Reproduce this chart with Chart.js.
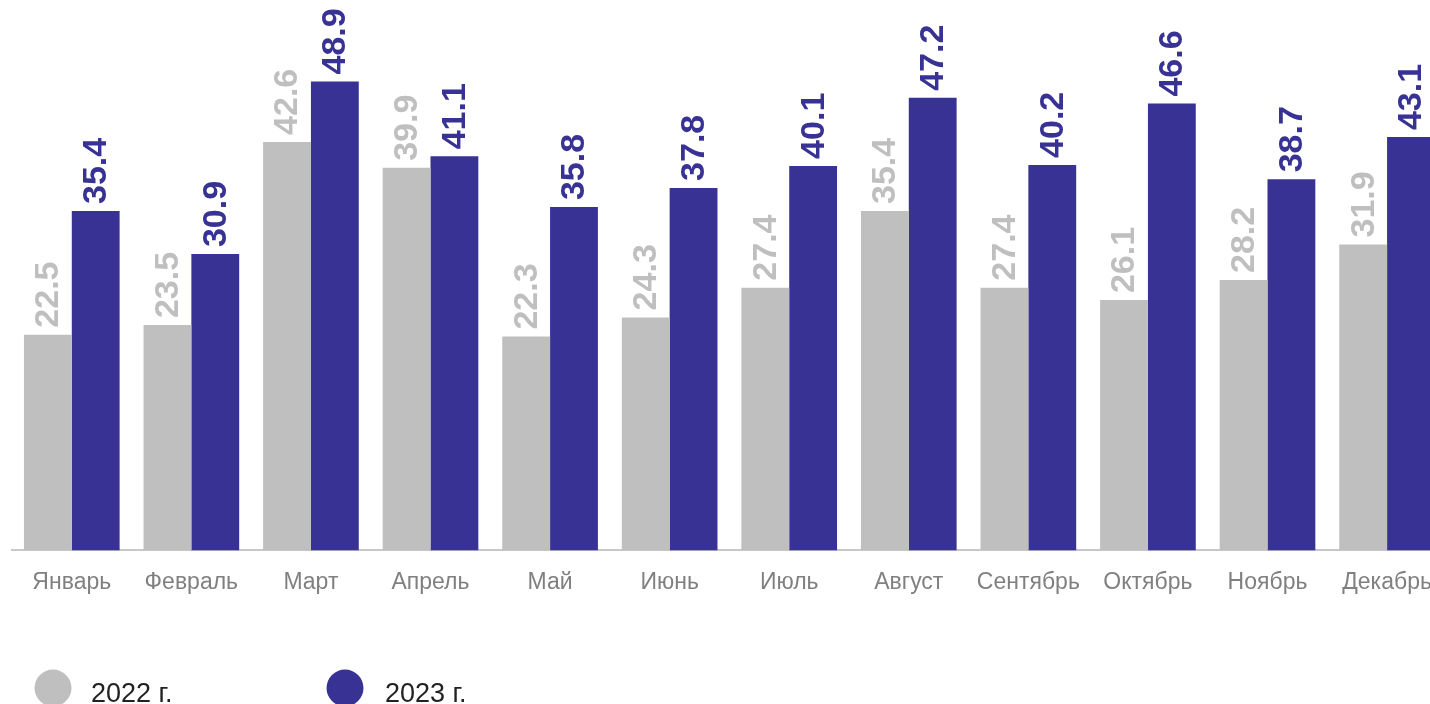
<!DOCTYPE html>
<html>
<head>
<meta charset="utf-8">
<script src="https://cdn.jsdelivr.net/npm/chart.js@4"></script>
<style>
  html, body { margin: 0; padding: 0; background: #fff; overflow: hidden; }
  #wrap { width: 1450px; height: 704px; position: relative; }
</style>
</head>
<body>
<div id="wrap"><canvas id="c"></canvas></div>
<script>
const categories = ['Январь','Февраль','Март','Апрель','Май','Июнь','Июль','Август','Сентябрь','Октябрь','Ноябрь','Декабрь'];
const seriesNames = ['2022 г.', '2023 г.'];
const values2022 = [22.5, 23.5, 42.6, 39.9, 22.3, 24.3, 27.4, 35.4, 27.4, 26.1, 28.2, 31.9];
const values2023 = [35.4, 30.9, 48.9, 41.1, 35.8, 37.8, 40.1, 47.2, 40.2, 46.6, 38.7, 43.1];

const GRAY = '#bfbfbf';
const BLUE = '#373293';
const FONT = '"Liberation Sans", Arial, sans-serif';

const valueLabels = {
  id: 'valueLabels',
  afterDatasetsDraw(chart) {
    const ctx = chart.ctx;
    chart.data.datasets.forEach((ds, di) => {
      const meta = chart.getDatasetMeta(di);
      meta.data.forEach((bar, i) => {
        const v = ds.data[i];
        ctx.save();
        ctx.translate(bar.x + 1, bar.y - 7);
        ctx.rotate(-Math.PI / 2);
        ctx.textAlign = 'left';
        ctx.textBaseline = 'middle';
        ctx.fillStyle = ds.backgroundColor;
        ctx.font = 'bold 34px ' + FONT;
        ctx.fillText(v.toFixed(1), 0, 0);
        ctx.restore();
      });
    });
  }
};

const bottomLegend = {
  id: 'bottomLegend',
  afterDraw(chart) {
    const ctx = chart.ctx;
    const items = [
      { cx: 53, tx: 91, color: GRAY, text: seriesNames[0] },
      { cx: 345, tx: 385, color: BLUE, text: seriesNames[1] }
    ];
    const cy = 688;
    items.forEach(it => {
      ctx.save();
      ctx.beginPath();
      ctx.arc(it.cx, cy, 18.5, 0, Math.PI * 2);
      ctx.fillStyle = it.color;
      ctx.fill();
      ctx.fillStyle = '#222222';
      ctx.font = '27px ' + FONT;
      ctx.textAlign = 'left';
      ctx.textBaseline = 'alphabetic';
      ctx.fillText(it.text, it.tx, 702);
      ctx.restore();
    });
  }
};

new Chart(document.getElementById('c'), {
  type: 'bar',
  data: {
    labels: categories,
    datasets: [
      { label: seriesNames[0], data: values2022, backgroundColor: GRAY, categoryPercentage: 0.8, barPercentage: 1.0 },
      { label: seriesNames[1], data: values2023, backgroundColor: BLUE, categoryPercentage: 0.8, barPercentage: 1.0 }
    ]
  },
  options: {
    responsive: true,
    maintainAspectRatio: false,
    animation: false,
    devicePixelRatio: 1,
    layout: { padding: { left: 12, right: 2, top: 23, bottom: 90 } },
    plugins: { legend: { display: false }, tooltip: { enabled: false } },
    scales: {
      x: {
        grid: { display: false, drawTicks: false },
        border: { display: true, color: '#c8c8c8', width: 2 },
        ticks: { color: '#808080', font: { family: FONT, size: 23 }, padding: 18, maxRotation: 0, autoSkip: false }
      },
      y: {
        display: false,
        min: 0,
        max: 55,
        grid: { display: false }
      }
    }
  },
  plugins: [valueLabels, bottomLegend]
});
</script>
</body>
</html>
